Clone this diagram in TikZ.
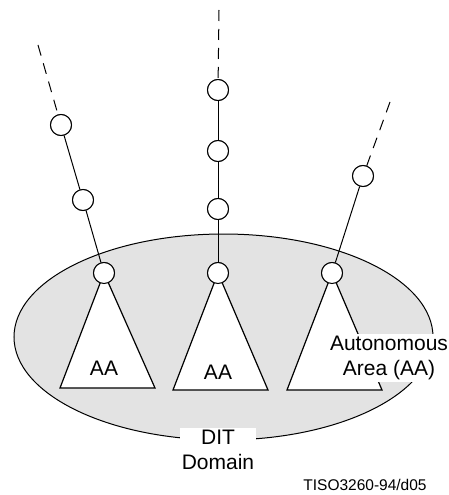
\documentclass[tikz,border=0pt]{standalone}
\usepackage{fontspec}
\setmainfont{Liberation Sans}
\usetikzlibrary{arrows}

\begin{document}
\begin{tikzpicture}[x=1pt,y=-1pt,
    noeud/.style={circle,draw,fill=white,line width=1pt,minimum size=21pt,inner sep=0pt},
    lien/.style={line width=1pt},
    pointille/.style={line width=1pt,dash pattern=on 11pt off 8pt},
    aire/.style={draw,fill=white,line width=1.2pt,line join=miter},
    etiq/.style={font=\fontsize{21}{25}\selectfont,align=center,inner sep=2pt}]
    \useasboundingbox (0,0) rectangle (449,495);
    % domaine gris
    \draw[fill=gray!22,line width=1pt] (223.5,337) ellipse [x radius=209.5, y radius=103];
    % les noeuds
    \node[noeud] (l1) at (61,125) {};
    \node[noeud] (l2) at (83,200) {};
    \node[noeud] (l3) at (104,273) {};
    \node[noeud] (m1) at (218,90) {};
    \node[noeud] (m2) at (218,151) {};
    \node[noeud] (m3) at (218,209) {};
    \node[noeud] (m4) at (218,273) {};
    \node[noeud] (r1) at (363,176) {};
    \node[noeud] (r2) at (332,273) {};
    \coordinate (lbout) at (38,45);
    \coordinate (mbout) at (219,10);
    \coordinate (rbout) at (390,102);
    % les aires autonomes
    \draw[aire] (l3.center) -- (60,388) -- (155,388) -- cycle;
    \draw[aire] (m4.center) -- (173,390) -- (268,390) -- cycle;
    \draw[aire] (r2.center) -- (287,390) -- (382,390) -- cycle;
    % les chaines
    \draw[pointille] (lbout) -- (l1);
    \draw[lien] (l1) -- (l2);
    \draw[lien] (l2) -- (l3);
    \draw[pointille] (mbout) -- (m1);
    \draw[lien] (m1) -- (m2);
    \draw[lien] (m2) -- (m3);
    \draw[lien] (m3) -- (m4);
    \draw[pointille] (rbout) -- (r1);
    \draw[lien] (r1) -- (r2);
    \foreach \n in {l1,l2,l3,m1,m2,m3,m4,r1,r2}
        \node[noeud] at (\n) {};
    % textes
    \node[etiq] (aa1) at (104,368) {AA};
    \node[etiq] (aa2) at (218,372) {AA};
    \node[etiq,fill=white] (aa3) at (389,358) {Autonomous\\Area (AA)};
    \node[etiq,fill=white] (dom) at (218,450) {DIT\\Domain};
    \node[font=\fontsize{15.5}{18}\selectfont,inner sep=0pt] (ref) at (365,485) {TISO3260-94/d05};
\end{tikzpicture}
\end{document}
